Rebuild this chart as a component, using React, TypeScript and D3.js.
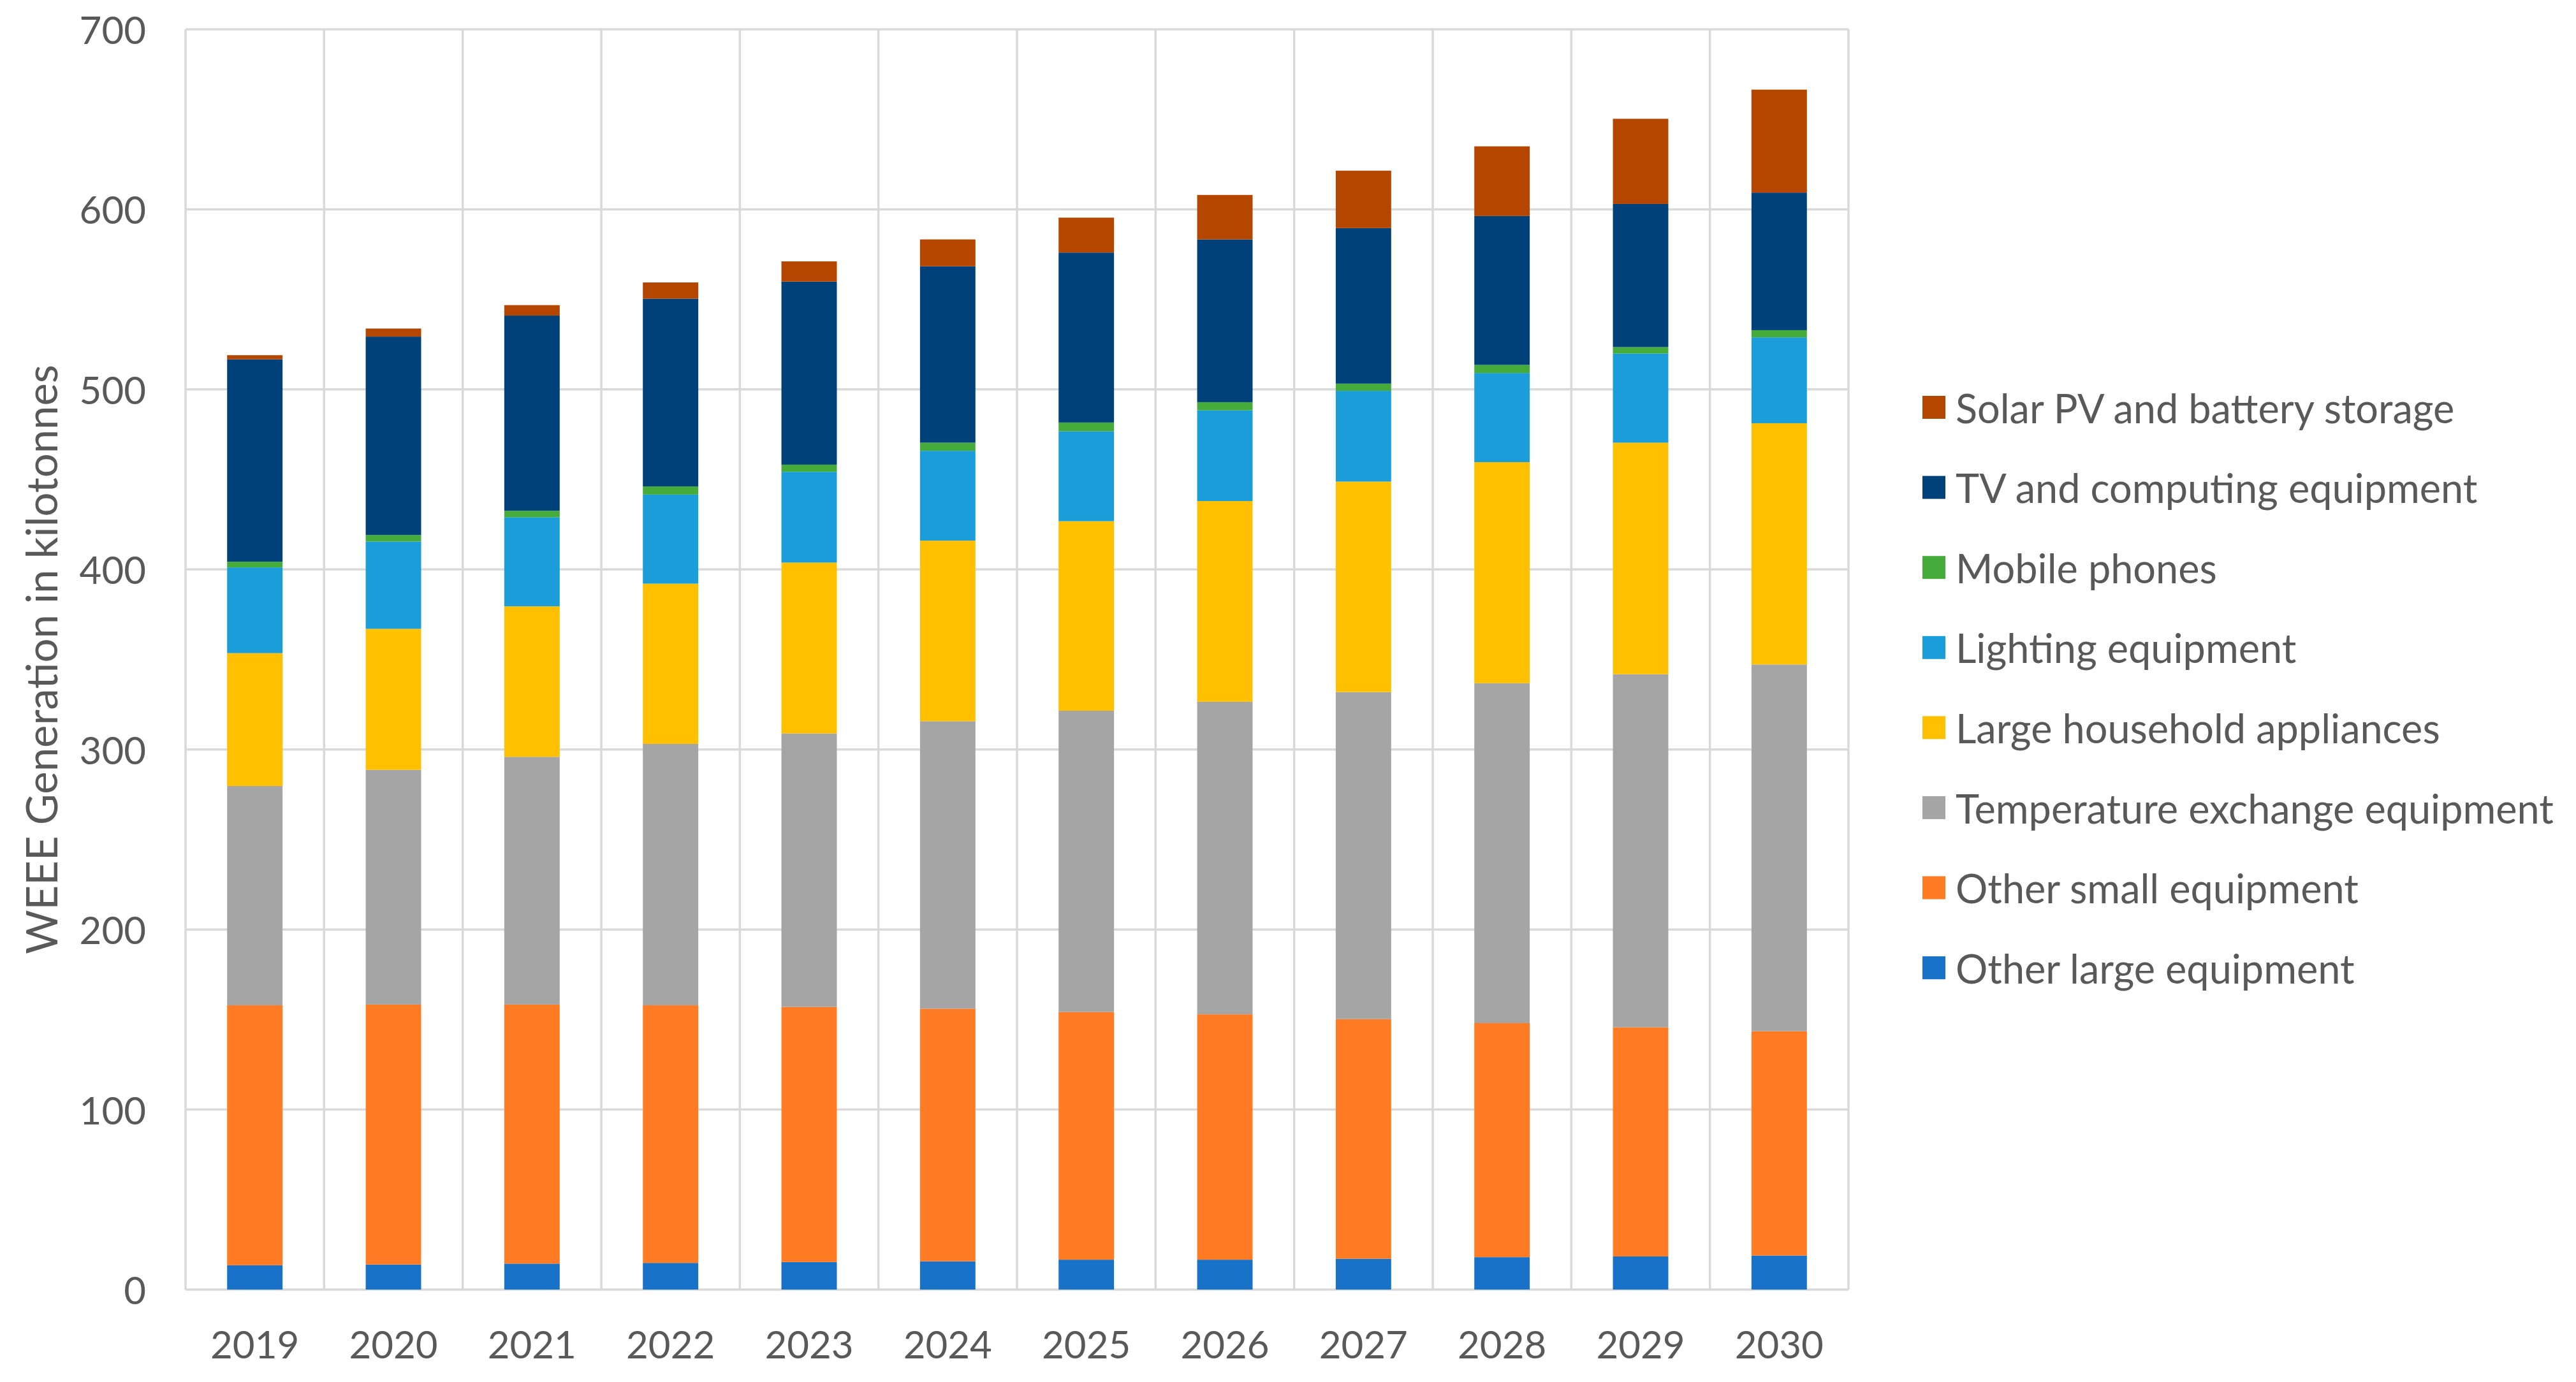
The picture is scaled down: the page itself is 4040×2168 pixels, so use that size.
import React from "react";
import * as d3 from "d3";

const years = ["2019", "2020", "2021", "2022", "2023", "2024", "2025", "2026", "2027", "2028", "2029", "2030"];

const seriesNames = [
  "Other large equipment",
  "Other small equipment",
  "Temperature exchange equipment",
  "Large household appliances",
  "Lighting equipment",
  "Mobile phones",
  "TV and computing equipment",
  "Solar PV and battery storage",
];

const seriesColors = ["#1873C8", "#FF7C25", "#A5A5A5", "#FFC000", "#1A9DD9", "#45AB3A", "#00417A", "#B54600"];

const otherLarge = [13.5, 13.9, 14.4, 14.8, 15.3, 15.7, 16.6, 16.6, 17.1, 18.0, 18.4, 18.9];
const otherSmall = [144.4, 144.4, 143.9, 143.1, 141.7, 140.3, 137.6, 136.3, 133.1, 130.0, 127.3, 124.6];
const temperature = [121.8, 130.4, 137.6, 145.2, 151.9, 159.7, 167.3, 173.6, 181.7, 188.8, 196.1, 203.7];
const largeHousehold = [73.8, 78.3, 83.6, 89.0, 94.9, 100.3, 105.3, 111.5, 116.9, 122.8, 128.6, 134.0];
const lighting = [47.6, 48.5, 49.5, 49.5, 50.4, 49.9, 49.9, 50.4, 50.4, 49.5, 49.5, 47.7];
const mobile = [3.2, 3.6, 3.6, 4.5, 4.0, 4.5, 4.9, 4.5, 4.0, 4.5, 3.6, 4.0];
const tv = [112.4, 110.2, 108.4, 104.3, 101.7, 98.0, 94.4, 90.4, 86.4, 82.7, 79.5, 76.4];
const solar = [2.3, 4.5, 5.8, 9.0, 11.2, 14.9, 19.4, 24.7, 31.9, 38.7, 47.3, 57.2];

const yTicks = [0, 100, 200, 300, 400, 500, 600, 700];
const yTitle = "WEEE Generation in kilotonnes";

const seriesValues = [otherLarge, otherSmall, temperature, largeHousehold, lighting, mobile, tv, solar];

const W = 4040;
const H = 2168;
const plot = { left: 291, right: 2899, top: 46, bottom: 2023 };
const FONT = "Lato, 'Open Sans', sans-serif";
const TEXT = "#595959";
const GRID = "#D9D9D9";
const FS = 60;
const FS_LEGEND = 63;
const FS_TITLE = 67;

export default function App() {
  const rows = years.map((y, i) => {
    const r: Record<string, any> = { year: y };
    seriesNames.forEach((n, k) => (r[n] = seriesValues[k][i]));
    return r;
  });
  const stacked = d3.stack().keys(seriesNames)(rows as any);

  const x = d3.scaleBand().domain(years).range([plot.left, plot.right]).paddingInner(0).paddingOuter(0);
  const y = d3.scaleLinear().domain([0, 700]).range([plot.bottom, plot.top]);
  const bw = x.bandwidth();
  const barW = bw * 0.4;

  const boundaries = years.map((yr) => x(yr) as number).concat([plot.right]);

  const legendItems = seriesNames.map((n, i) => ({ n, c: seriesColors[i] })).reverse();
  const legendY0 = 639;
  const legendStep = 125.6;

  return (
    <div style={{ position: "absolute", left: 0, top: 0, width: W, height: H, overflow: "hidden", background: "#fff" }}>
      <svg width={W} height={H} viewBox={`0 0 ${W} ${H}`} style={{ display: "block" }}>
        <rect x={0} y={0} width={W} height={H} fill="#fff" />
        {yTicks.map((t) => (
          <line key={"h" + t} x1={plot.left} x2={plot.right} y1={y(t)} y2={y(t)} stroke={GRID} strokeWidth={3.5} />
        ))}
        {boundaries.map((bx, i) => (
          <line key={"v" + i} x1={bx} x2={bx} y1={plot.top} y2={plot.bottom} stroke={GRID} strokeWidth={3.5} />
        ))}
        {stacked.map((s, k) => (
          <g key={s.key} fill={seriesColors[k]}>
            {s.map((d: any, i: number) => (
              <rect
                key={i}
                x={(x(years[i]) as number) + (bw - barW) / 2}
                y={y(d[1])}
                width={barW}
                height={Math.max(0, y(d[0]) - y(d[1]))}
              />
            ))}
          </g>
        ))}
        {yTicks.map((t) => (
          <text
            key={"yt" + t}
            x={229}
            y={y(t)}
            textAnchor="end"
            dominantBaseline="central"
            fontFamily={FONT}
            fontSize={FS}
            fill={TEXT}
          >
            {t}
          </text>
        ))}
        {years.map((yr) => (
          <text
            key={"xl" + yr}
            x={(x(yr) as number) + bw / 2}
            y={2108}
            textAnchor="middle"
            dominantBaseline="central"
            fontFamily={FONT}
            fontSize={FS}
            fill={TEXT}
          >
            {yr}
          </text>
        ))}
        <text
          transform={`translate(64, ${(plot.top + plot.bottom) / 2}) rotate(-90)`}
          textAnchor="middle"
          dominantBaseline="central"
          fontFamily={FONT}
          fontSize={FS_TITLE}
          fill={TEXT}
        >
          {yTitle}
        </text>
        {legendItems.map((it, i) => {
          const cy = legendY0 + i * legendStep;
          return (
            <g key={it.n}>
              <rect x={3015} y={cy - 18} width={36} height={36} fill={it.c} />
              <text x={3067} y={cy} dominantBaseline="central" fontFamily={FONT} fontSize={FS_LEGEND} fill={TEXT}>
                {it.n}
              </text>
            </g>
          );
        })}
      </svg>
    </div>
  );
}
